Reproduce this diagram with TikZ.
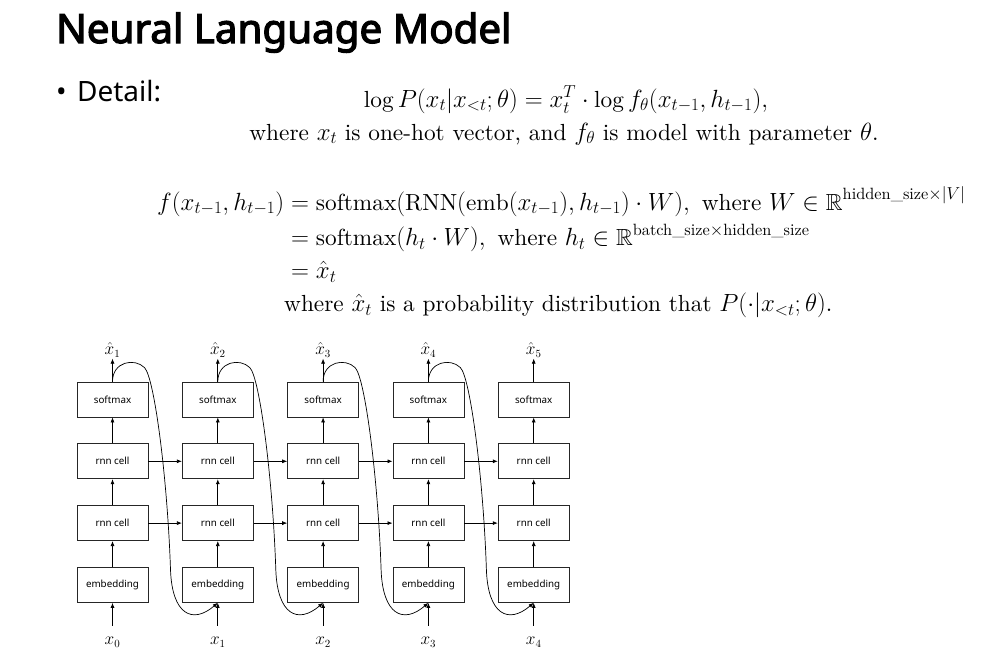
\documentclass[tikz,border=0pt]{standalone}
\usepackage{amsmath}
\usepackage{amssymb}
\usepackage{fontspec}
\setmainfont{lmroman10-regular.otf}[BoldFont=lmroman10-bold.otf, ItalicFont=lmroman10-italic.otf]
\newfontfamily\slidefont{Noto Sans}
\newfontfamily\titlefont{Noto Sans}[FakeBold=3]
\usetikzlibrary{positioning, arrows.meta}
\setlength{\jot}{5pt}

\tikzset{
  blk/.style={draw=black!85, line width=0.8pt, minimum width=71pt, minimum height=35pt,
    inner sep=0pt, font=\slidefont\fontsize{9.8}{11}\selectfont},
  lbl/.style={inner sep=1pt, font=\fontsize{16}{18}\selectfont},
  arr/.style={-{Latex[length=5pt,width=4pt]}, line width=0.7pt},
  eq/.style={inner sep=0pt, font=\fontsize{23.3}{28}\selectfont}
}

\begin{document}
\begin{tikzpicture}[x=1pt,y=1pt]
\useasboundingbox (0,0) rectangle (994,-651);

\node[anchor=base west, inner sep=0pt, font=\titlefont\fontsize{40.3}{44}\selectfont] (title) at (56,-43) {Neural Language Model};
\node[anchor=base west, inner sep=0pt, font=\slidefont\fontsize{28}{32}\selectfont] (bullet) at (56,-101) {•};
\node[base right = 10pt of bullet, inner sep=0pt, font=\slidefont\fontsize{28}{32}\selectfont] (detail) {Detail:};

\node[eq, anchor=base] (logp) at (566,-107) {$\log P(x_t|x_{<t};\theta) = x_t^T \cdot \log f_\theta(x_{t-1},h_{t-1}),$};
\node[eq, anchor=base] (where1) at (564,-140) {where $x_t$ is one-hot vector, and $f_\theta$ is model with parameter $\theta$.};

\node[eq, anchor=base west] (fdef) at (157,-210) {$\begin{aligned}[t]
  f(x_{t-1},h_{t-1}) &= \mathrm{softmax}(\mathrm{RNN}(\mathrm{emb}(x_{t-1}),h_{t-1})\cdot W), \text{ where } W\in\mathbb{R}^{\text{hidden\_size}\times|V|}\\
  &= \mathrm{softmax}(h_t\cdot W), \text{ where } h_t\in\mathbb{R}^{\text{batch\_size}\times\text{hidden\_size}}\\
  &= \hat{x}_t\\
  &\text{where $\hat{x}_t$ is a probability distribution that $P(\cdot|x_{<t};\theta)$.}
\end{aligned}$};

% the unrolled network
\node[blk] (sm1) at (112.5,-399.5) {softmax};
\foreach \i [count=\j] in {2,...,5}
  \node[blk, right = 33.5pt of sm\j] (sm\i) {softmax};

\foreach \i in {1,...,5} {
  \pgfmathtruncatemacro{\k}{\i-1}
  \node[blk, below = 26pt of sm\i] (ru\i) {rnn cell};
  \node[blk, below = 26pt of ru\i] (rl\i) {rnn cell};
  \node[blk, below = 26pt of rl\i] (em\i) {embedding};
  \node[lbl, above = 23pt of sm\i] (h\i) {$\hat{x}_{\i}$};
  \node[lbl, below = 33pt of em\i] (x\i) {$x_{\k}$};

  \draw[arr, shorten <=10pt] (x\i) -- (em\i);
  \draw[arr] (em\i) -- (rl\i);
  \draw[arr] (rl\i) -- (ru\i);
  \draw[arr] (ru\i) -- (sm\i);
  \draw[arr] (sm\i) -- (h\i);
}

\foreach \i [count=\j] in {2,...,5} {
  \draw[arr] (ru\j) -- (ru\i);
  \draw[arr] (rl\j) -- (rl\i);
  % output fed back as next input
  \draw[arr, shift={(sm\j.north)}] (sm\j.north) .. controls (0,20) and (22,24) .. (32,14)
    .. controls (42,4) and (55,-98) .. (58,-188)
    .. controls (59.5,-233) and (80,-243) .. (em\i.south);
}
\end{tikzpicture}
\end{document}
